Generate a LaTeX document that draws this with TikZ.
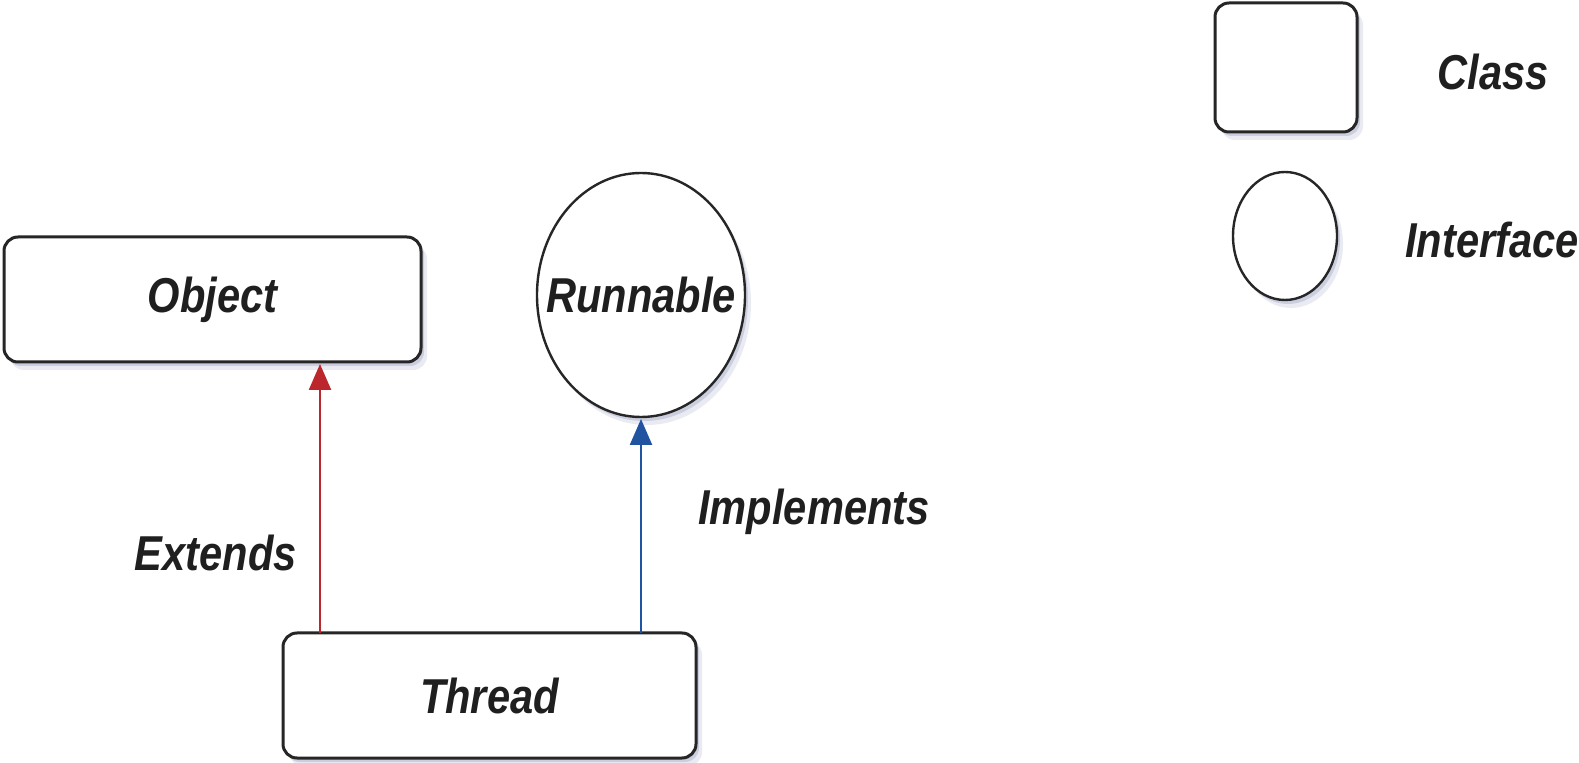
\documentclass[tikz,border=0pt]{standalone}
\usepackage{fontspec}
\setmainfont{Liberation Sans}[FakeStretch=0.85]
\usetikzlibrary{arrows.meta,shadows,shapes.geometric}
\definecolor{extendred}{RGB}{188,38,45}
\definecolor{implblue}{RGB}{32,84,160}
\definecolor{shadowblue}{RGB}{110,120,165}
\tikzset{
  softshadow/.style={
    general shadow={shadow xshift=1.5pt, shadow yshift=-2pt, fill=shadowblue, opacity=0.25},
    general shadow={shadow xshift=3pt, shadow yshift=-4pt, fill=shadowblue, opacity=0.14}},
  label text/.style={font=\fontsize{24.5}{29}\selectfont\bfseries\itshape, text=black!88},
  classbox/.style={draw=black!85, line width=1.5pt, rounded corners=7pt, fill=white,
    inner sep=0pt, outer sep=0pt, softshadow, label text},
  ifacebox/.style={draw=black!85, line width=1.2pt, ellipse, fill=white,
    inner sep=0pt, outer sep=0pt, softshadow},
  extendarrow/.style={draw=extendred, line width=1.2pt,
    -{Triangle[length=13pt, width=11pt]}, shorten >=1pt},
  implarrow/.style={draw=implblue, line width=1.2pt,
    -{Triangle[length=13pt, width=11pt]}, shorten >=1pt},
}
\begin{document}
\begin{tikzpicture}[x=0.5pt, y=-0.5pt]
  \useasboundingbox (0,0) rectangle (1579,763);
  \fill[white] (0,0) rectangle (1579,763);

  % classes and interface
  \node[classbox, minimum width=208.5pt, minimum height=62.5pt] (object) at (212.5,299.5) {Object};
  \node[ifacebox, minimum width=104pt, minimum height=122pt,
        label={[label text, inner sep=0pt]center:Runnable}] (runnable) at (641,295) {};
  \node[classbox, minimum width=206.5pt, minimum height=62.5pt] (thread) at (489.5,695.5) {Thread};

  % relations
  \draw[extendarrow] ([xshift=18.5pt]thread.north west) -- ([xshift=18.5pt]thread.north west |- object.south);
  \draw[implarrow] (thread.north -| runnable.south) -- (runnable.south);
  \node[label text] (extends) at (216,553) {Extends};
  \node[label text] (implements) at (814,512) {Implements};

  % legend
  \node[classbox, minimum width=71pt, minimum height=64.5pt] (legclass) at (1286,67.5) {};
  \node[ifacebox, minimum width=52pt, minimum height=64pt] (legiface) at (1285,236) {};
  \node[label text] (legclasstext) at (1493,72) {Class};
  \node[label text] (legifacetext) at (1492,240) {Interface};
\end{tikzpicture}
\end{document}
